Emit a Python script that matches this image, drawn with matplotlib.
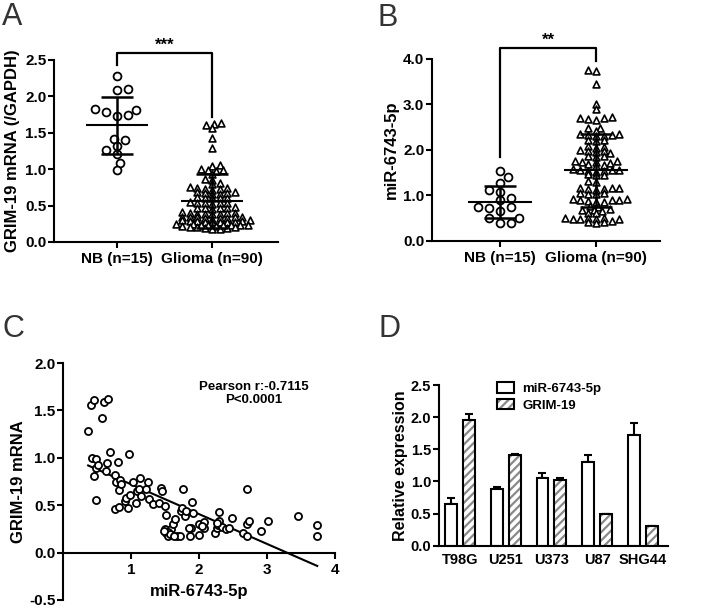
import numpy as np
import matplotlib
matplotlib.use('Agg')
import matplotlib.pyplot as plt
from matplotlib.patches import Patch

plt.rcParams['font.family'] = ['Liberation Sans', 'DejaVu Sans']
plt.rcParams['font.weight'] = 'bold'
plt.rcParams['axes.labelweight'] = 'bold'
plt.rcParams['hatch.linewidth'] = 1.6

# ---- data ----
groups = ['NB (n=15)', 'Glioma (n=90)']

# panel A: GRIM-19 mRNA (/GAPDH)
nb_a = [2.28, 2.09, 2.10, 1.81, 1.74, 1.73, 1.78, 1.82, 1.40, 1.42, 1.27, 1.32, 1.21, 1.09, 0.99]
gli_a = [1.63, 1.62, 1.60, 1.57, 1.43, 1.29,
         1.06, 1.05, 1.00, 0.99, 0.99, 0.98,
         0.94, 0.87, 0.85, 0.81, 0.80,
         0.75, 0.74, 0.74, 0.73, 0.73, 0.72,
         0.68, 0.68, 0.67, 0.67, 0.66, 0.66,
         0.62, 0.61, 0.61, 0.60, 0.60,
         0.55, 0.54, 0.54, 0.53, 0.53, 0.52,
         0.48, 0.47, 0.47, 0.46, 0.46, 0.45,
         0.41, 0.40, 0.40, 0.40, 0.39, 0.39, 0.38, 0.38,
         0.35, 0.35, 0.34, 0.34, 0.34, 0.33, 0.33, 0.33, 0.32,
         0.30, 0.30, 0.29, 0.29, 0.29, 0.28, 0.28, 0.28, 0.27, 0.27,
         0.25, 0.25, 0.24, 0.24, 0.24, 0.23, 0.23, 0.23, 0.22, 0.22,
         0.21, 0.20, 0.20, 0.19, 0.19, 0.18, 0.18]
a_mean = [1.60, 0.56]
a_sd = [0.39, 0.37]

# panel B: miR-6743-5p
nb_b = [1.53, 1.40, 1.28, 1.11, 1.07, 0.93, 0.89, 0.75, 0.71, 0.66, 0.74, 0.51, 0.49, 0.40, 0.40]
gli_b = [3.75, 3.74, 3.44, 3.02, 2.91,
         2.73, 2.71, 2.70, 2.68, 2.66,
         2.49, 2.47, 2.42,
         2.35, 2.34, 2.33, 2.32, 2.31, 2.30,
         2.22, 2.21, 2.20,
         2.08, 2.07, 2.05,
         1.99, 1.98, 1.97, 1.96, 1.92,
         1.87, 1.86, 1.85,
         1.76, 1.75, 1.74, 1.73, 1.72,
         1.68, 1.66, 1.65,
         1.57, 1.56, 1.55, 1.55, 1.54, 1.53, 1.52,
         1.46, 1.45, 1.44,
         1.31, 1.29,
         1.16, 1.15, 1.15, 1.14, 1.13, 1.12,
         1.05, 1.04, 1.03, 1.02,
         0.92, 0.91, 0.90, 0.90, 0.89, 0.88, 0.86, 0.85,
         0.76, 0.75,
         0.69, 0.68, 0.67, 0.66,
         0.61, 0.60,
         0.50, 0.49, 0.49, 0.48, 0.48, 0.47, 0.47,
         0.43, 0.42, 0.41, 0.38]
b_mean = [0.85, 1.55]
b_sd = [0.36, 0.80]

# panel C: correlation
mir = [0.37, 0.41, 0.46, 0.60, 0.66, 0.58, 0.42, 0.48, 0.49, 0.51,
       0.45, 0.48, 0.64, 0.69, 0.63, 0.81, 0.97, 0.76, 0.78, 0.82,
       0.84, 0.86, 0.77, 0.83, 0.91, 0.93, 0.96, 0.99, 1.03, 1.09,
       1.12, 1.08, 1.13, 1.15, 1.22, 1.25, 1.27, 1.32, 1.41, 1.44,
       1.46, 1.50, 1.52, 1.50, 1.52, 1.54, 1.59, 1.62, 1.65, 1.68,
       1.72, 1.74, 1.75, 1.77, 1.80, 1.81, 1.90, 1.89, 1.87, 1.91,
       2.00, 2.00, 2.07, 2.07, 2.23, 2.26, 2.28, 2.30, 2.30, 2.34,
       2.40, 2.44, 2.49, 2.65, 2.70, 2.70, 2.70, 2.74, 2.92, 3.01,
       3.45, 3.74, 3.74, 1.55, 1.58, 1.48, 1.63, 1.85, 2.05, 2.27]
grim = [1.28, 1.56, 1.61, 1.59, 1.62, 1.42, 1.00, 0.99, 0.89, 0.92,
        0.81, 0.56, 0.95, 1.06, 0.86, 0.96, 1.04, 0.82, 0.74, 0.66,
        0.77, 0.72, 0.46, 0.48, 0.54, 0.58, 0.47, 0.61, 0.74, 0.65,
        0.67, 0.52, 0.79, 0.60, 0.67, 0.74, 0.57, 0.51, 0.52, 0.68,
        0.65, 0.49, 0.40, 0.25, 0.21, 0.18, 0.25, 0.30, 0.35, 0.18,
        0.18, 0.44, 0.47, 0.67, 0.39, 0.44, 0.53, 0.26, 0.18, 0.42,
        0.30, 0.19, 0.32, 0.26, 0.21, 0.26, 0.29, 0.43, 0.33, 0.27,
        0.25, 0.26, 0.37, 0.21, 0.67, 0.30, 0.17, 0.33, 0.23, 0.33,
        0.39, 0.29, 0.18, 0.22, 0.20, 0.23, 0.18, 0.26, 0.28, 0.31]

# panel D: cell lines
cells = ['T98G', 'U251', 'U373', 'U87', 'SHG44']
mir_expr = [0.65, 0.88, 1.05, 1.31, 1.72]
mir_err = [0.10, 0.03, 0.08, 0.10, 0.19]
grim_expr = [1.95, 1.41, 1.03, 0.49, 0.30]
grim_err = [0.10, 0.01, 0.03, 0.01, 0.01]


def swarm(ax, vals, center, dx, dy):
    # beeswarm in pixel space with an elliptical no-overlap zone (dx wide, dy tall)
    p0 = ax.transData.transform((0, 0))
    p1 = ax.transData.transform((1, 1))
    sx, sy = p1 - p0
    vals = np.asarray(vals)
    step = dx / 4.0
    placed = []
    xs = np.zeros(len(vals))
    flip = 1
    for i in np.argsort(vals):
        y = vals[i] * sy
        off = None
        k = 0
        while off is None:
            cands = [0.0] if k == 0 else [flip * k * step, -flip * k * step]
            for c in cands:
                if all(((c - px) / dx) ** 2 + ((y - py) / dy) ** 2 >= 1 for px, py in placed):
                    off = c
                    break
            k += 1
        if off != 0:
            flip = -flip
        placed.append((off, y))
        xs[i] = center + off / sx
    return xs


def style(ax):
    for s in ['top', 'right']:
        ax.spines[s].set_visible(False)
    for s in ['left', 'bottom']:
        ax.spines[s].set_linewidth(1.5)
    ax.tick_params(direction='out', length=4, width=1.5, labelsize=11)
    ax.tick_params(axis='y', pad=1.5)


def mean_sd(ax, c, m, s):
    ax.hlines(m, c - 0.33, c + 0.33, color='k', lw=1.5, zorder=4)
    ax.hlines([m - s, m + s], c - 0.17, c + 0.17, color='k', lw=1.8, zorder=4)
    ax.vlines(c, m - s, m + s, color='k', lw=1.8, zorder=4)


fig = plt.figure(figsize=(7.08, 6.10), dpi=100)

# ---- A ----
axA = fig.add_axes([0.0763, 0.6033, 0.3164, 0.2984])
axA.set_xlim(-0.663, 1.695)
axA.set_ylim(0, 2.5)
style(axA)
xa0 = swarm(axA, nb_a, 0, 11.0, 7.5)
xa1 = swarm(axA, gli_a, 1, 7.5, 3.2)
axA.scatter(xa0, nb_a, marker='o', s=32, facecolors='white', edgecolors='k', linewidths=1.3, zorder=3)
axA.scatter(xa1, gli_a, marker='^', s=24, facecolors='white', edgecolors='k', linewidths=1.2, zorder=3)
for i in range(2):
    mean_sd(axA, i, a_mean[i], a_sd[i])
axA.set_xticks([0, 1])
axA.set_xticklabels(groups)
axA.set_yticks(np.arange(0, 2.51, 0.5))
axA.set_yticklabels([f'{v:.1f}' for v in np.arange(0, 2.51, 0.5)])
axA.set_ylabel('GRIM-19 mRNA (/GAPDH)', fontsize=12, labelpad=4)
axA.plot([0, 0, 1, 1], [2.43, 2.60, 2.60, 1.72], color='k', lw=1.6, clip_on=False)
axA.text(0.5, 2.60, '***', ha='center', va='bottom', fontsize=12)

# ---- B ----
axB = fig.add_axes([0.6102, 0.6054, 0.322, 0.2979])
axB.set_xlim(-0.708, 1.667)
axB.set_ylim(0, 4.0)
style(axB)
xb0 = swarm(axB, nb_b, 0, 11.0, 7.5)
xb1 = swarm(axB, gli_b, 1, 7.8, 3.6)
axB.scatter(xb0, nb_b, marker='o', s=32, facecolors='white', edgecolors='k', linewidths=1.3, zorder=3)
axB.scatter(xb1, gli_b, marker='^', s=24, facecolors='white', edgecolors='k', linewidths=1.2, zorder=3)
for i in range(2):
    mean_sd(axB, i, b_mean[i], b_sd[i])
axB.set_xticks([0, 1])
axB.set_xticklabels(groups)
axB.set_yticks(np.arange(0, 4.01, 1.0))
axB.set_yticklabels([f'{v:.1f}' for v in np.arange(0, 4.01, 1.0)])
axB.set_ylabel('miR-6743-5p', fontsize=12, labelpad=3)
axB.plot([0, 0, 1, 1], [1.84, 4.24, 4.24, 3.96], color='k', lw=1.6, clip_on=False)
axB.text(0.5, 4.24, '**', ha='center', va='bottom', fontsize=12)

# ---- C ----
axC = fig.add_axes([0.089, 0.0164, 0.384, 0.3885])
axC.set_xlim(0, 4)
axC.set_ylim(-0.5, 2.0)
style(axC)
axC.spines['bottom'].set_position(('data', 0))
axC.scatter(mir, grim, marker='o', s=26, facecolors='white', edgecolors='k', linewidths=1.3, zorder=3)
k, b = np.polyfit(mir, grim, 1)
xl = np.array([min(mir), max(mir)])
axC.plot(xl, k * xl + b, color='k', lw=1.5, zorder=2)
axC.set_xticks([1, 2, 3, 4])
axC.set_yticks(np.arange(-0.5, 2.01, 0.5))
axC.set_yticklabels([f'{v:.1f}' for v in np.arange(-0.5, 2.01, 0.5)])
axC.set_ylabel('GRIM-19 mRNA', fontsize=12, labelpad=2)
axC.set_xlabel('miR-6743-5p', fontsize=12, labelpad=5)
axC.text(2.8, 1.81, 'Pearson r:-0.7115\nP<0.0001', ha='center', va='top', fontsize=9.5, linespacing=1.1)

# ---- D ----
axD = fig.add_axes([0.620, 0.1054, 0.3234, 0.2634])
axD.set_xlim(-0.46, 4.55)
axD.set_ylim(0, 2.5)
style(axD)
pos = np.arange(len(cells))
w = 0.26
axD.bar(pos - 0.195, mir_expr, w, color='white', edgecolor='k', linewidth=1.5, zorder=2)
axD.bar(pos + 0.195, grim_expr, w, color='white', edgecolor='#8a8a8a', hatch='////', linewidth=0, zorder=2)
axD.bar(pos + 0.195, grim_expr, w, fill=False, edgecolor='k', linewidth=1.5, zorder=3)
axD.errorbar(pos - 0.195, mir_expr, yerr=[np.zeros(5), mir_err], fmt='none', ecolor='k',
             elinewidth=1.5, capsize=3, capthick=1.5, zorder=1)
axD.errorbar(pos + 0.195, grim_expr, yerr=[np.zeros(5), grim_err], fmt='none', ecolor='k',
             elinewidth=1.5, capsize=3, capthick=1.5, zorder=1)
axD.set_xticks(pos)
axD.set_xticklabels(cells)
axD.tick_params(axis='x', length=0, labelsize=10.5, pad=5)
axD.tick_params(axis='y', labelsize=10.5)
axD.set_yticks(np.arange(0, 2.51, 0.5))
axD.set_yticklabels([f'{v:.1f}' for v in np.arange(0, 2.51, 0.5)])
axD.set_ylabel('Relative expression', fontsize=11.5, labelpad=2)
h1 = Patch(facecolor='white', edgecolor='k', linewidth=1.5)
h2a = Patch(facecolor='white', edgecolor='#8a8a8a', hatch='////', linewidth=0)
h2b = Patch(fill=False, edgecolor='k', linewidth=1.5)
axD.legend([h1, (h2a, h2b)], ['miR-6743-5p', 'GRIM-19'], loc='upper left',
           bbox_to_anchor=(0.20, 1.09), frameon=False, fontsize=9.5,
           handlelength=1.35, handleheight=0.8, handletextpad=0.6, labelspacing=0.3)

# panel letters
for lab, x, y in [('A', 0.003, 0.997), ('B', 0.533, 0.995), ('C', 0.003, 0.485), ('D', 0.535, 0.485)]:
    fig.text(x, y, lab, ha='left', va='top', fontsize=22, fontweight='normal', color='#333333')

fig.savefig('out.png', dpi=100)
